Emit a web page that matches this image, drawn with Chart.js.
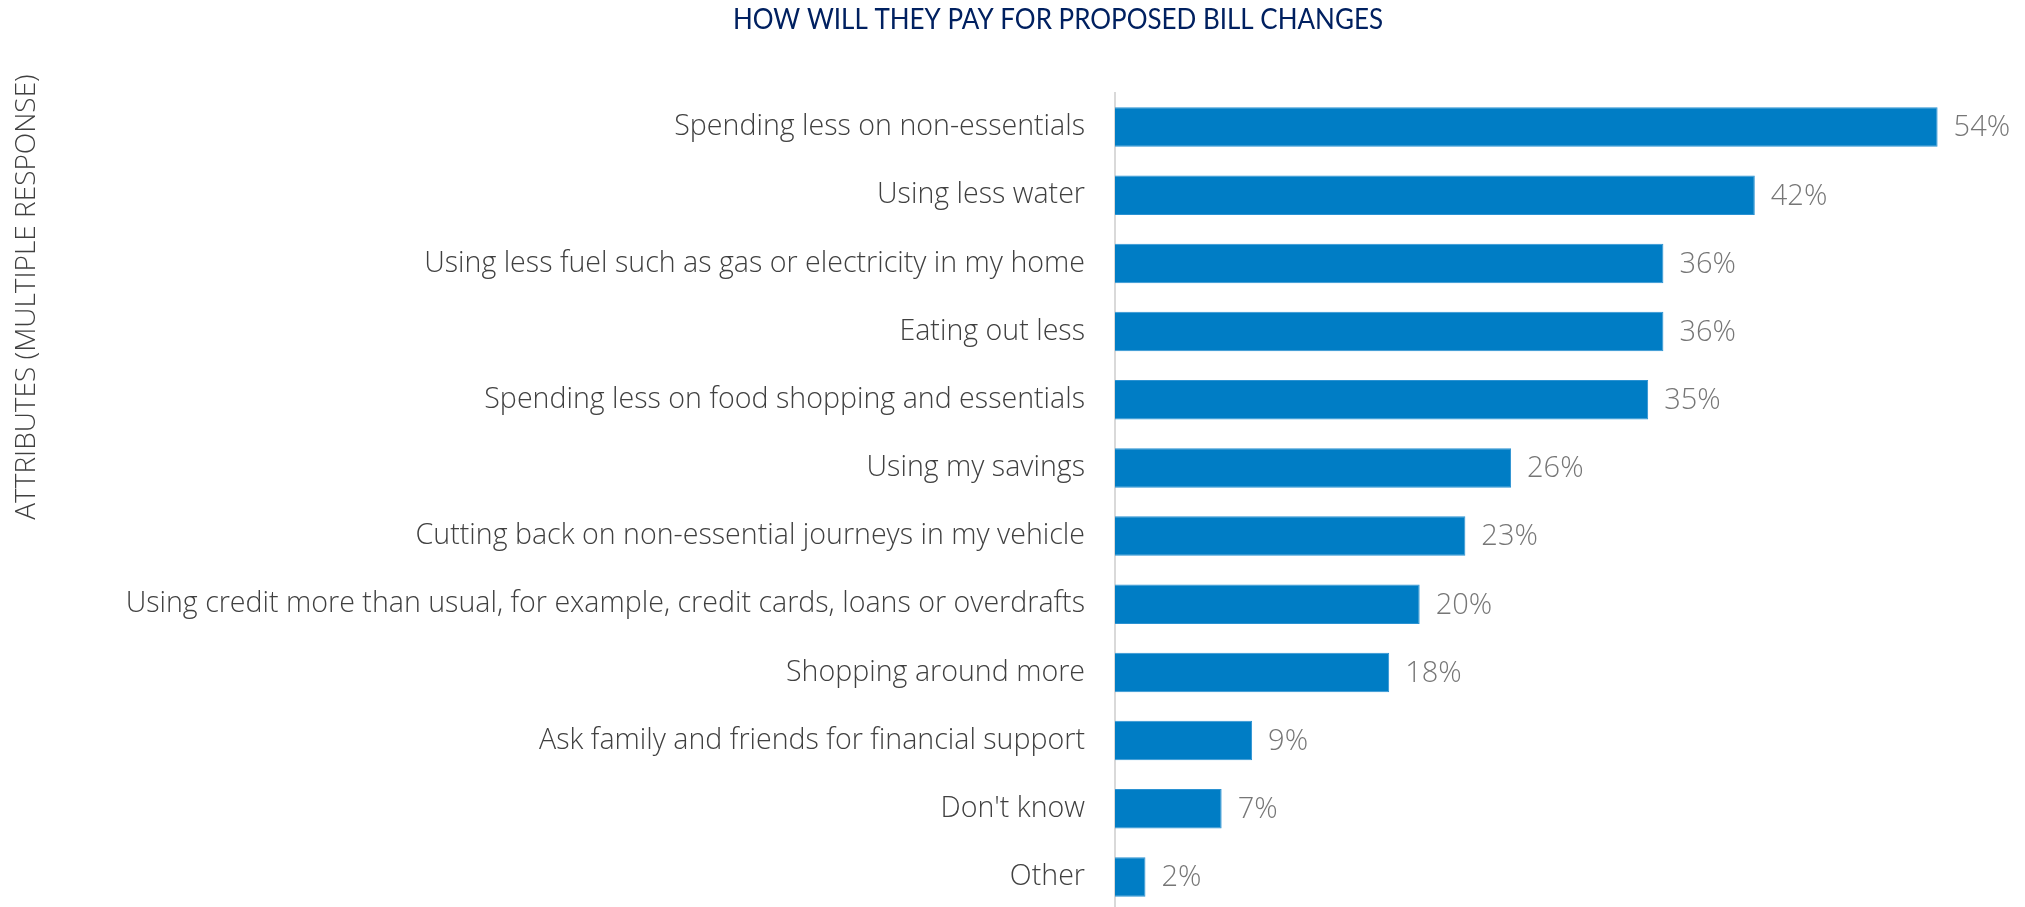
<!DOCTYPE html>
<html>
<head>
<meta charset="utf-8">
<script src="https://cdn.jsdelivr.net/npm/chart.js@4.4.1/dist/chart.umd.min.js"></script>
<style>
  html, body { margin: 0; padding: 0; background: #fff; overflow: hidden; }
  #wrap { width: 2029px; height: 911px; }
</style>
</head>
<body>
<div id="wrap"><canvas id="bills" width="2029" height="911"></canvas></div>
<script>
// Survey: how people will pay for proposed bill changes (multiple response, %)
const categories = [
  'Spending less on non-essentials',
  'Using less water',
  'Using less fuel such as gas or electricity in my home',
  'Eating out less',
  'Spending less on food shopping and essentials',
  'Using my savings',
  'Cutting back on non-essential journeys in my vehicle',
  'Using credit more than usual, for example, credit cards, loans or overdrafts',
  'Shopping around more',
  'Ask family and friends for financial support',
  "Don't know",
  'Other'
];
const shares = [54, 42, 36, 36, 35, 26, 23, 20, 18, 9, 7, 2];

const chartTitle = 'HOW WILL THEY PAY FOR PROPOSED BILL CHANGES';
const axisTitle = 'ATTRIBUTES (MULTIPLE RESPONSE)';

const LABEL_FONT = '"Open Sans", "Segoe UI", sans-serif';

// value labels at the end of each bar, plus the free-floating titles
const extras = {
  id: 'extras',
  afterDatasetsDraw(chart) {
    const ctx = chart.ctx;
    const meta = chart.getDatasetMeta(0);
    ctx.save();
    ctx.font = '300 29px ' + LABEL_FONT;
    ctx.fillStyle = '#767676';
    ctx.textAlign = 'left';
    ctx.textBaseline = 'middle';
    meta.data.forEach((bar, i) => {
      ctx.fillText(shares[i] + '%', bar.x + 16, bar.y + 1);
    });
    ctx.restore();
  },
  afterDraw(chart) {
    const ctx = chart.ctx;
    ctx.save();
    // condensed look for the heading: squeeze it to a fixed width
    ctx.font = '28px Lato, "Liberation Sans", sans-serif';
    ctx.fillStyle = '#002060';
    ctx.textAlign = 'center';
    ctx.textBaseline = 'middle';
    const w = ctx.measureText(chartTitle).width;
    ctx.save();
    ctx.translate(1058, 20);
    ctx.scale(650 / w, 1);
    ctx.fillText(chartTitle, 0, 0);
    ctx.restore();

    ctx.translate(27, 297);
    ctx.rotate(-Math.PI / 2);
    ctx.font = '300 28px ' + LABEL_FONT;
    ctx.fillStyle = '#404040';
    ctx.fillText(axisTitle, 0, 0);
    ctx.restore();
  }
};

new Chart(document.getElementById('bills'), {
  type: 'bar',
  data: {
    labels: categories,
    datasets: [{
      data: shares,
      backgroundColor: '#007DC5',
      borderColor: '#2B92D2',
      borderWidth: 1,
      categoryPercentage: 1,
      barPercentage: 0.58
    }]
  },
  options: {
    indexAxis: 'y',
    responsive: false,
    animation: false,
    layout: { padding: { top: 93, bottom: 0, left: 0, right: 0 } },
    plugins: {
      legend: { display: false },
      tooltip: { enabled: false }
    },
    scales: {
      x: {
        display: false,
        min: 0,
        max: 60
      },
      y: {
        afterFit(scale) {
          scale.width = 1115;
          scale.paddingTop = 0;
          scale.paddingBottom = 0;
        },
        grid: { display: false, drawTicks: false },
        border: { display: true, color: '#D9D9D9', width: 2 },
        ticks: {
          padding: 30,
          font: { family: LABEL_FONT, size: 28.6, weight: 300 },
          color: '#404040'
        }
      }
    }
  },
  plugins: [extras]
});
</script>
</body>
</html>
